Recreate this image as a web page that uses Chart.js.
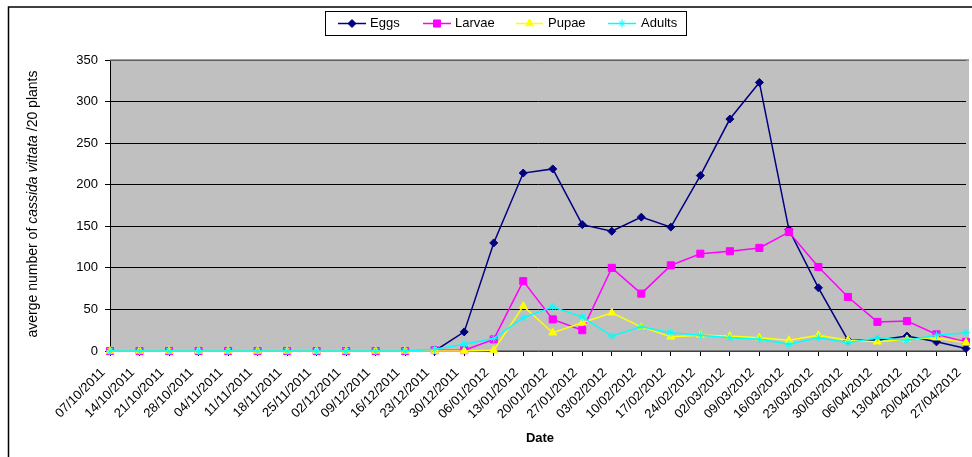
<!DOCTYPE html>
<html><head><meta charset="utf-8">
<script src="https://cdn.jsdelivr.net/npm/chart.js@4/dist/chart.umd.min.js"></script>
<style>html,body{margin:0;padding:0;background:#fff;}</style>
</head><body>
<canvas id="c" width="972" height="457"></canvas>
<script>
const dates = ["07/10/2011","14/10/2011","21/10/2011","28/10/2011","04/11/2011","11/11/2011","18/11/2011","25/11/2011","02/12/2011","09/12/2011","16/12/2011","23/12/2011","30/12/2011","06/01/2012","13/01/2012","20/01/2012","27/01/2012","03/02/2012","10/02/2012","17/02/2012","24/02/2012","02/03/2012","09/03/2012","16/03/2012","23/03/2012","30/03/2012","06/04/2012","13/04/2012","20/04/2012","27/04/2012"];
const eggs   = [0,0,0,0,0,0,0,0,0,0,0,0,23,130,214,219,152,144,161,149,211,279,323,146,76,13,13,18,11,3];
const larvae = [0,0,0,0,0,0,0,0,0,0,0,1,1,14,84,38,25,100,69,103,117,120,124,143,101,65,35,36,20,11];
const pupae  = [0,0,0,0,0,0,0,0,0,0,0,0,0,1,54,22,34,46,29,17,19,18,16,13,19,13,11,14,16,10];
const adults = [0,0,0,0,0,0,0,0,0,0,0,2,8,15,40,53,41,18,29,22,19,16,14,8,16,10,16,13,19,22];
const yTicks = [0,50,100,150,200,250,300,350];
const seriesNames = ["Eggs","Larvae","Pupae","Adults"];
const yTitleParts = [["averge number of ",false],["cassida vittata",true],[" /20 plants",false]];
const xTitle = "Date";

const FONT = "'Liberation Sans', Arial, sans-serif";
const styles = [
  {color:'#000080', point:'rectRot', r:4},
  {color:'#FF00FF', point:'rect', r:5},
  {color:'#FFFF00', point:'triangle', r:4.5},
  {color:'#00FFFF', point:'star', r:4}
];
const seriesData = [eggs, larvae, pupae, adults];

const decor = {
  id:'decor',
  beforeDraw(chart){
    const {ctx, chartArea:a} = chart;
    ctx.save();
    ctx.fillStyle = '#C0C0C0';
    ctx.fillRect(a.left, a.top, a.right - a.left + 3, a.bottom - a.top);
    ctx.restore();
  },
  afterDraw(chart){
    const {ctx, chartArea:a} = chart;
    ctx.save();
    ctx.strokeStyle = '#000'; ctx.lineWidth = 1.5;
    ctx.beginPath(); ctx.moveTo(8.5, 460); ctx.lineTo(8.5, 7); ctx.lineTo(975, 7); ctx.stroke();
    ctx.strokeStyle = '#808080'; ctx.lineWidth = 1.5;
    ctx.beginPath(); ctx.moveTo(a.left, a.top); ctx.lineTo(a.right+3, a.top); ctx.stroke();
    // legend
    ctx.fillStyle = '#fff'; ctx.fillRect(325.5, 11.5, 361, 24);
    ctx.strokeStyle = '#000'; ctx.lineWidth = 1; ctx.strokeRect(325.5, 11.5, 361, 24);
    const items = [[338,366,370],[423,451,455],[516,543,548],[608,636,641]];
    ctx.font = '13px ' + FONT; ctx.textBaseline = 'middle'; ctx.textAlign = 'left';
    items.forEach((it, i) => {
      const st = styles[i];
      ctx.strokeStyle = st.color; ctx.lineWidth = 1.5;
      ctx.beginPath(); ctx.moveTo(it[0], 23.5); ctx.lineTo(it[1], 23.5); ctx.stroke();
      ctx.save(); ctx.fillStyle = st.color; ctx.strokeStyle = st.color; ctx.lineWidth = 1;
      Chart.helpers.drawPoint(ctx, {pointStyle: st.point, radius: st.r, borderWidth:1}, (it[0]+it[1])/2, 23.5);
      ctx.restore();
      ctx.fillStyle = '#000';
      ctx.fillText(seriesNames[i], it[2], 23.5);
    });
    // y title
    ctx.save();
    ctx.translate(37, 204); ctx.rotate(-Math.PI/2);
    const fN = '14px ' + FONT, fI = 'italic 14px ' + FONT;
    let total = 0;
    yTitleParts.forEach(p => { ctx.font = p[1] ? fI : fN; total += ctx.measureText(p[0]).width; });
    let x = -total/2;
    ctx.fillStyle = '#000'; ctx.textBaseline = 'alphabetic'; ctx.textAlign = 'left';
    yTitleParts.forEach(p => { ctx.font = p[1] ? fI : fN; ctx.fillText(p[0], x, 0); x += ctx.measureText(p[0]).width; });
    ctx.restore();
    // x title
    ctx.font = 'bold 13px ' + FONT; ctx.textAlign = 'center'; ctx.textBaseline = 'middle'; ctx.fillStyle = '#000';
    ctx.fillText(xTitle, 540, 438);
    ctx.restore();
  }
};

new Chart(document.getElementById('c'), {
  type: 'line',
  data: {
    labels: dates,
    datasets: seriesData.map((d, i) => ({
      label: seriesNames[i], data: d,
      borderColor: styles[i].color, backgroundColor: styles[i].color,
      pointStyle: styles[i].point, pointRadius: styles[i].r,
      pointBorderColor: styles[i].color, pointBackgroundColor: styles[i].color,
      pointBorderWidth: 1, borderWidth: 1.5, tension: 0, fill: false,
      order: 3 - i, clip: 8
    }))
  },
  options: {
    responsive: false, animation: false, devicePixelRatio: 1,
    layout: {padding: {left: 0, right: 2, top: 60, bottom: 0}},
    plugins: {legend: {display: false}, tooltip: {enabled: false}},
    scales: {
      x: {
        offset: false,
        grid: {display: true, drawOnChartArea: false, drawTicks: true, tickLength: 5, color: '#000'},
        border: {display: true, color: '#808080', width: 1.5},
        ticks: {autoSkip: false, minRotation: 45, maxRotation: 45, color: '#000', font: {family: FONT, size: 13}, padding: 9, labelOffset: -7},
        afterFit(s) { s.height = 106; s.paddingLeft = 0; s.paddingRight = 0; }
      },
      y: {
        min: 0, max: 350,
        afterBuildTicks(s) { s.ticks = yTicks.map(v => ({value: v})); },
        grid: {color: '#000', tickLength: 5, lineWidth: 1},
        border: {display: true, color: '#000', width: 1},
        ticks: {color: '#000', font: {family: FONT, size: 13}, padding: 7},
        afterFit(s) { s.width = 110; s.paddingTop = 0; s.paddingBottom = 0; }
      }
    }
  },
  plugins: [decor]
});
</script>
</body></html>
